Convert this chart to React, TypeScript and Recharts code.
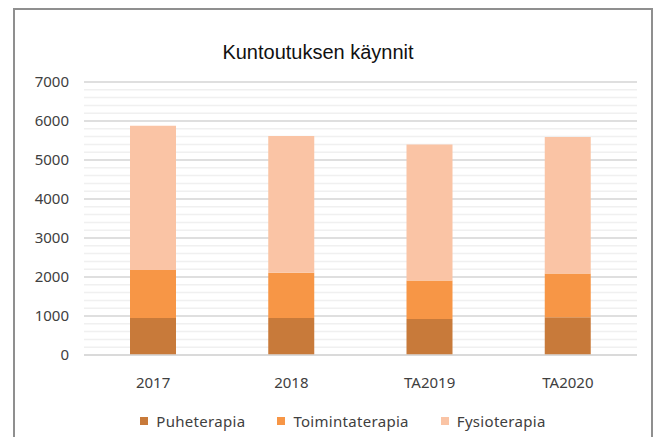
import React from 'react';
import { BarChart, Bar, XAxis, YAxis, CartesianGrid, Legend } from 'recharts';

// Vuodet / kategoriat
const years = ['2017', '2018', 'TA2019', 'TA2020'];
const puheterapia = [950, 950, 920, 970];
const toimintaterapia = [1230, 1160, 990, 1120];
const fysioterapia = [3700, 3505, 3490, 3500];

const yMax = 7000;
const majorTicks = [0, 1000, 2000, 3000, 4000, 5000, 6000, 7000];
const minorTicks = Array.from({ length: 36 }, (_, i) => i * 200);

const series = [
  { key: 'Puheterapia', color: '#C87A3A' },
  { key: 'Toimintaterapia', color: '#F79646' },
  { key: 'Fysioterapia', color: '#FAC4A5' },
];

const data = years.map((y, i) => ({
  year: y,
  Puheterapia: puheterapia[i],
  Toimintaterapia: toimintaterapia[i],
  Fysioterapia: fysioterapia[i],
}));

const font = '"Noto Sans", sans-serif';

// apuviivat 200 välein
const minorLines = ({ yAxis, offset }: any) => {
  if (yAxis && typeof yAxis.scale === 'function') return minorTicks.map(t => yAxis.scale(t));
  return minorTicks.map(t => offset.top + offset.height * (1 - t / yMax));
};

const LegendBox = () => (
  <div style={{ display: 'flex', justifyContent: 'center', fontFamily: font, fontSize: 15, color: '#404040', paddingLeft: 22 }}>
    {series.map(s => (
      <div key={s.key} style={{ display: 'flex', alignItems: 'center', margin: '0 16px', letterSpacing: 0.3 }}>
        <span style={{ width: 8, height: 8, background: s.color, display: 'inline-block', marginRight: 8 }} />
        {s.key}
      </div>
    ))}
  </div>
);

export default function App() {
  return (
    <div style={{ position: 'relative', width: 664, height: 445, margin: -8, overflow: 'hidden', background: '#fff' }}>
      <div style={{ position: 'absolute', left: 13, top: 8, width: 636, height: 460, border: '2px solid #8f8f8f' }} />
      <div style={{ position: 'absolute', left: 0, top: 41, width: 636, textAlign: 'center', fontFamily: '"Liberation Sans", Arial, sans-serif', fontSize: 20, color: '#111' }}>
        Kuntoutuksen käynnit
      </div>
      <BarChart width={664} height={445} data={data} margin={{ top: 82, right: 27, left: 0, bottom: 30 }} style={{ position: 'absolute', left: 0, top: 0 }}>
        <CartesianGrid vertical={false} stroke="#F0F0F0" strokeWidth={1.5} horizontalCoordinatesGenerator={minorLines} />
        <CartesianGrid vertical={false} stroke="#D9D9D9" strokeWidth={1.5} />
        <YAxis domain={[0, yMax]} ticks={majorTicks} width={84} axisLine={false} tickLine={false} tickSize={0} tickMargin={15}
          tick={{ fontFamily: font, fontSize: 15, fill: '#404040' }} />
        <XAxis dataKey="year" axisLine={{ stroke: '#D9D9D9', strokeWidth: 1.5 }} tickLine={false} tickMargin={16} height={40}
          tick={{ fontFamily: font, fontSize: 15, fill: '#404040' }} />
        {series.map(s => (
          <Bar key={s.key} dataKey={s.key} stackId="a" fill={s.color} barSize={46} isAnimationActive={false} />
        ))}
        <Legend content={<LegendBox />} verticalAlign="bottom" wrapperStyle={{ left: 0, width: 664, bottom: 14 }} />
      </BarChart>
    </div>
  );
}
